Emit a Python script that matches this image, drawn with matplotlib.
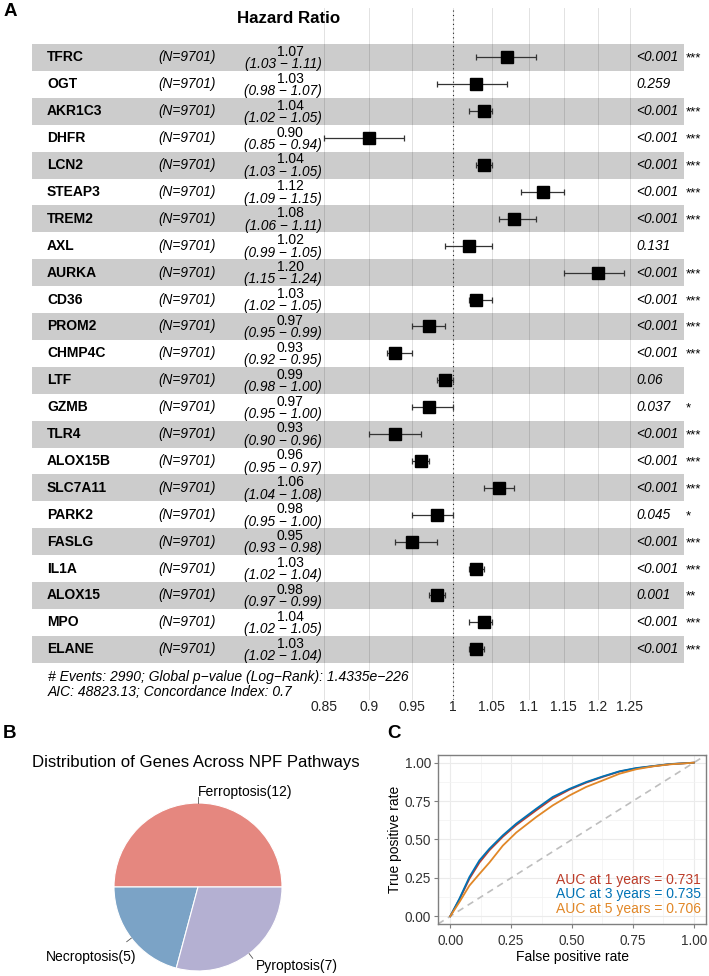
import numpy as np
import matplotlib
matplotlib.use("Agg")
import matplotlib.pyplot as plt
from matplotlib.ticker import NullLocator

plt.rcParams['font.family'] = ['Liberation Sans', 'DejaVu Sans']

# ---------------- data ----------------
genes = ["TFRC", "OGT", "AKR1C3", "DHFR", "LCN2", "STEAP3", "TREM2", "AXL", "AURKA",
         "CD36", "PROM2", "CHMP4C", "LTF", "GZMB", "TLR4", "ALOX15B", "SLC7A11",
         "PARK2", "FASLG", "IL1A", "ALOX15", "MPO", "ELANE"]
n_text = "(N=9701)"
hr = [1.07, 1.03, 1.04, 0.90, 1.04, 1.12, 1.08, 1.02, 1.20, 1.03, 0.97, 0.93, 0.99,
      0.97, 0.93, 0.96, 1.06, 0.98, 0.95, 1.03, 0.98, 1.04, 1.03]
ci_low = [1.03, 0.98, 1.02, 0.85, 1.03, 1.09, 1.06, 0.99, 1.15, 1.02, 0.95, 0.92, 0.98,
          0.95, 0.90, 0.95, 1.04, 0.95, 0.93, 1.02, 0.97, 1.02, 1.02]
ci_high = [1.11, 1.07, 1.05, 0.94, 1.05, 1.15, 1.11, 1.05, 1.24, 1.05, 0.99, 0.95, 1.00,
           1.00, 0.96, 0.97, 1.08, 1.00, 0.98, 1.04, 0.99, 1.05, 1.04]
p_text = ["<0.001", "0.259", "<0.001", "<0.001", "<0.001", "<0.001", "<0.001", "0.131",
          "<0.001", "<0.001", "<0.001", "<0.001", "0.06", "0.037", "<0.001", "<0.001",
          "<0.001", "0.045", "<0.001", "<0.001", "0.001", "<0.001", "<0.001"]
stars = ["***", "", "***", "***", "***", "***", "***", "", "***", "***", "***", "***", "",
         "*", "***", "***", "***", "*", "***", "***", "**", "***", "***"]
hr_ticks = [0.85, 0.9, 0.95, 1, 1.05, 1.1, 1.15, 1.2, 1.25]
hr_tick_labels = ["0.85", "0.9", "0.95", "1", "1.05", "1.1", "1.15", "1.2", "1.25"]
footer_lines = ["# Events: 2990; Global p\u2212value (Log\u2212Rank): 1.4335e\u2212226",
                "AIC: 48823.13; Concordance Index: 0.7"]

pie_labels = ["Ferroptosis", "Necroptosis", "Pyroptosis"]
pie_counts = [12, 5, 7]

roc_fpr = [0.0, 0.038, 0.079, 0.12, 0.161, 0.216, 0.271, 0.353, 0.421, 0.49, 0.558,
           0.627, 0.695, 0.763, 0.832, 0.90, 1.0]
roc_tpr_1y = [0.0, 0.11, 0.245, 0.35, 0.43, 0.518, 0.594, 0.69, 0.767, 0.825, 0.87,
              0.908, 0.942, 0.963, 0.977, 0.99, 1.0]
roc_tpr_3y = [0.0, 0.115, 0.256, 0.364, 0.44, 0.527, 0.603, 0.70, 0.777, 0.83, 0.874,
              0.911, 0.944, 0.965, 0.978, 0.991, 1.0]
roc_tpr_5y = [0.0, 0.093, 0.20, 0.276, 0.35, 0.46, 0.545, 0.646, 0.722, 0.787, 0.842,
              0.885, 0.928, 0.957, 0.976, 0.989, 1.0]
auc_texts = ["AUC at 1 years = 0.731", "AUC at 3 years = 0.735", "AUC at 5 years = 0.706"]
roc_colors = ["#BC3C29", "#0072B5", "#E18727"]

# ---------------- figure ----------------
W, H = 709, 976
fig = plt.figure(figsize=(W / 100, H / 100), dpi=100)


def fx(px):
    return px / W


def fy(py):
    return 1 - py / H


# ================= Panel A: forest plot =================
ax_left, ax_right, ax_top, ax_bot = 32, 684, 8, 700
axA = fig.add_axes([fx(ax_left), fy(ax_bot), (ax_right - ax_left) / W, (ax_bot - ax_top) / H])
row0, row_h = 57.5, 26.9
axA.set_xscale("log")
one_px, k = 453.0, 793.0
axA.set_xlim(np.exp((ax_left - one_px) / k), np.exp((ax_right - one_px) / k))
axA.set_ylim((ax_bot - row0) / row_h, (ax_top - row0) / row_h)
for s in axA.spines.values():
    s.set_visible(False)
axA.set_yticks([])
axA.set_xticks(hr_ticks)
axA.set_xticklabels(hr_tick_labels, fontsize=10)
axA.xaxis.set_minor_locator(NullLocator())
axA.tick_params(axis="x", length=0, pad=0, colors="#222222")

for t in hr_ticks:
    axA.axvline(t, color="#E2E2E2", lw=0.7, zorder=0)
nrow = len(genes)
for i in range(nrow):
    if i % 2 == 0:
        axA.axhspan(i - 0.5, i + 0.5, color="black", alpha=0.2, lw=0, zorder=0.5)
axA.axvline(1, color="#222222", ls=(0, (1, 3)), lw=0.8, zorder=1)

ys = np.arange(nrow)
hr_a = np.array(hr)
xerr = np.vstack([hr_a - np.array(ci_low), np.array(ci_high) - hr_a])
axA.errorbar(hr_a, ys, xerr=xerr, fmt="none", ecolor="#333333", elinewidth=0.9,
             capsize=2.5, capthick=0.9, zorder=2)
axA.plot(hr_a, ys, "s", color="black", ms=9, zorder=3)

tr = axA.get_yaxis_transform()  # x in axes fraction, y in data


def afx(px):
    return (px - ax_left) / (ax_right - ax_left)


for i in range(nrow):
    axA.text(afx(47), i, genes[i], transform=tr, ha="left", va="center",
             fontsize=10, fontweight="bold", clip_on=False)
    axA.text(afx(187), i, n_text, transform=tr, ha="center", va="center",
             fontsize=9.8, style="italic", clip_on=False)
    axA.text(afx(290), i - 0.21, f"{hr[i]:.2f}", transform=tr, ha="center", va="center",
             fontsize=10, clip_on=False)
    axA.text(afx(283), i + 0.25, f"({ci_low[i]:.2f} \u2212 {ci_high[i]:.2f})", transform=tr,
             ha="center", va="center", fontsize=9.8, style="italic", clip_on=False)
    axA.text(afx(636), i, p_text[i], transform=tr, ha="left", va="center",
             fontsize=9.8, style="italic", clip_on=False)
    if stars[i]:
        axA.text(afx(686), i + 0.05, stars[i], transform=tr, ha="left", va="center",
                 fontsize=9.5, clip_on=False)

axA.text(afx(289), (19 - row0) / row_h, "Hazard Ratio", transform=tr, ha="center",
         va="center", fontsize=12.2, fontweight="bold", clip_on=False)
axA.text(afx(48), (677 - row0) / row_h, footer_lines[0], transform=tr, ha="left",
         va="center", fontsize=10, style="italic", clip_on=False)
axA.text(afx(48), (692 - row0) / row_h, footer_lines[1], transform=tr, ha="left",
         va="center", fontsize=10, style="italic", clip_on=False)

fig.text(fx(10), fy(12), "A", fontsize=13.5, fontweight="bold", ha="center", va="center")

# ================= Panel B: pie =================
fig.text(fx(10), fy(733), "B", fontsize=13.5, fontweight="bold", ha="center", va="center")
fig.text(fx(32), fy(762), "Distribution of Genes Across NPF Pathways", fontsize=12.1,
         ha="left", va="center")

cx, cy, r = 198, 887, 84
pl, pr, pt, pb = 30, 366, 780, 976
axB = fig.add_axes([fx(pl), fy(pb), (pr - pl) / W, (pb - pt) / H])
wedges, _ = axB.pie(pie_counts, colors=["#E5877F", "#7BA3C6", "#B4B0D2"], startangle=0,
                    counterclock=True, radius=1,
                    wedgeprops=dict(edgecolor="white", linewidth=0.8))
axB.set_aspect("auto")
axB.set_xlim((pl - cx) / r, (pr - cx) / r)
axB.set_ylim((cy - pb) / r, (cy - pt) / r)
axB.axis("off")
label_nudge = [(0, 0), (10, -9), (0, -3)]  # points
for w, lab, cnt, nd in zip(wedges, pie_labels, pie_counts, label_nudge):
    ang = np.deg2rad((w.theta1 + w.theta2) / 2)
    c, s = np.cos(ang), np.sin(ang)
    axB.plot([c * 1.0, c * 1.07], [s * 1.0, s * 1.07], color="#555555", lw=0.6)
    ha = "left" if c > -0.01 else "right"
    axB.annotate(f"{lab}({cnt})", xy=(c * 1.13, s * 1.13), xytext=nd,
                 textcoords="offset points", ha=ha, va="center", fontsize=10)

# ================= Panel C: ROC =================
fig.text(fx(394), fy(733), "C", fontsize=13.5, fontweight="bold", ha="center", va="center")
axC = fig.add_axes([fx(438), fy(924), 268 / W, 169 / H])
axC.set_xlim(-0.05, 1.05)
axC.set_ylim(-0.05, 1.05)
major = [0, 0.25, 0.5, 0.75, 1.0]
axC.set_xticks(major)
axC.set_xticklabels(["0.00", "0.25", "0.50", "0.75", "1.00"])
axC.set_yticks(major)
axC.set_yticklabels(["0.00", "0.25", "0.50", "0.75", "1.00"])
axC.set_xticks([0.125, 0.375, 0.625, 0.875], minor=True)
axC.set_yticks([0.125, 0.375, 0.625, 0.875], minor=True)
axC.grid(which="major", color="#EBEBEB", lw=0.8)
axC.grid(which="minor", color="#F2F2F2", lw=0.5)
axC.set_axisbelow(True)
for s in axC.spines.values():
    s.set_color("#7F7F7F")
    s.set_linewidth(1.0)
axC.tick_params(which="major", length=3, color="#7F7F7F", labelsize=9.8,
                labelcolor="#333333")
axC.tick_params(axis="x", which="major", pad=4)
axC.tick_params(axis="y", which="major", pad=2)
axC.tick_params(which="minor", length=0)
axC.axline((0, 0), (1, 1), color="#BEBEBE", ls=(0, (4, 3)), lw=1.2, zorder=1)
for tpr, col in zip([roc_tpr_1y, roc_tpr_3y, roc_tpr_5y], roc_colors):
    axC.plot(roc_fpr, tpr, color=col, lw=1.3, zorder=2)
for j, (txt, col) in enumerate(zip(auc_texts, roc_colors)):
    axC.text(1.029, 0.238 - j * 0.094, txt, color=col, ha="right", va="center",
             fontsize=10, zorder=3)
axC.set_xlabel("False positive rate", fontsize=10, labelpad=2)
axC.set_ylabel("True positive rate", fontsize=10, labelpad=2)

fig.savefig("out.png", dpi=100)
